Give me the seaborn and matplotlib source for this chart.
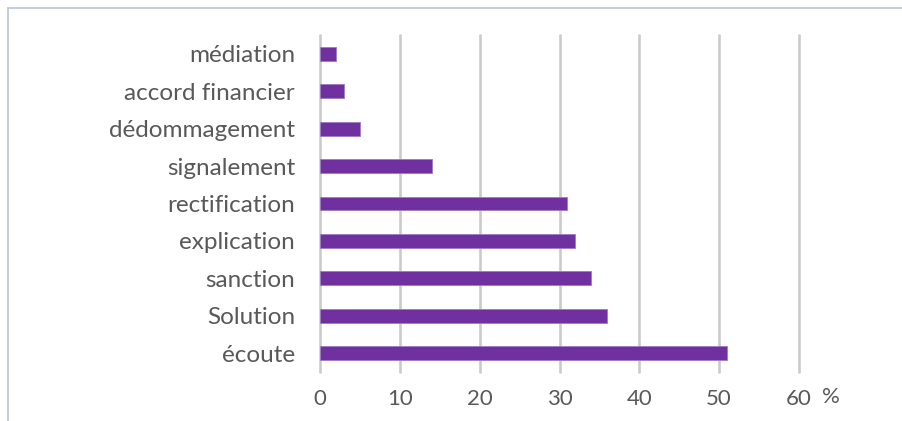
import matplotlib
matplotlib.use("Agg")
import matplotlib.pyplot as plt
import seaborn as sns
import pandas as pd

categories = ["médiation", "accord financier", "dédommagement", "signalement",
              "rectification", "explication", "sanction", "Solution", "écoute"]
values = [2, 3, 5, 14, 31, 32, 34, 36, 51]
x_ticks = [0, 10, 20, 30, 40, 50, 60]

df = pd.DataFrame({"cat": categories, "val": values})

sns.set_theme(style="white")
plt.rcParams["font.family"] = ["Lato", "DejaVu Sans"]

fig = plt.figure(figsize=(9.02, 4.21), dpi=100)
ax = fig.add_axes([320/902, 1-372/421, (799-320)/902, (372-35)/421])

sns.barplot(data=df, y="cat", x="val", orient="h", color="#7030a0",
            saturation=1, width=0.37, ax=ax, edgecolor="#9b7cc0", linewidth=0.6,
            zorder=3)

ax.set_xlim(0, 60)
ax.set_ylim(8.5, -0.5)
ax.set_xticks(x_ticks)
ax.set_xticklabels([str(t) for t in x_ticks])
ax.set_xlabel("")
ax.set_ylabel("")
for s in ax.spines.values():
    s.set_visible(False)
for t in x_ticks:
    ax.axvline(t, color="#cbcbcb", lw=1.9, zorder=1, clip_on=False)
ax.tick_params(axis="y", length=0, pad=18, labelsize=17.5, labelcolor="#595959")
ax.tick_params(axis="x", length=0, pad=12, labelsize=16, labelcolor="#595959")
ax.text(1.047, -0.075, "%", transform=ax.transAxes, fontsize=16, color="#595959",
        ha="left", va="center")

# outer frame lines (top and left)
fig.add_artist(plt.Line2D([8/902, 1], [1-8/421, 1-8/421], transform=fig.transFigure,
                          color="#b9c5d8", lw=1.2))
fig.add_artist(plt.Line2D([8/902, 8/902], [0, 1-8/421], transform=fig.transFigure,
                          color="#b9c5d8", lw=1.2))

fig.savefig("out.png", dpi=100)
